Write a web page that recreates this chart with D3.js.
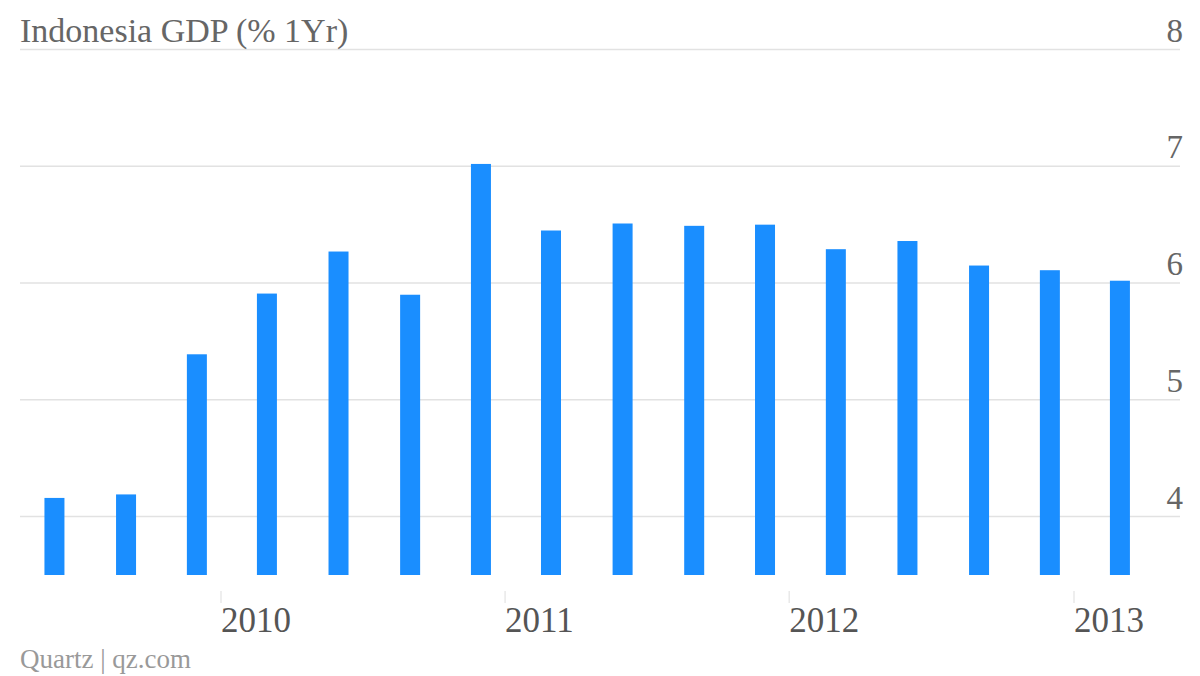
<!DOCTYPE html>
<html><head><meta charset="utf-8">
<script src="https://cdnjs.cloudflare.com/ajax/libs/d3/7.8.5/d3.min.js"></script>
<style>body{margin:0;background:#fff}svg{display:block}</style>
</head><body>
<script>
const dates = ["2009-06-01","2009-09-01","2009-12-01","2010-03-01","2010-06-01","2010-09-01","2010-12-01","2011-03-01","2011-06-01","2011-09-01","2011-12-01","2012-03-01","2012-06-01","2012-09-01","2012-12-01","2013-03-01"];
const values = [4.16,4.19,5.39,5.91,6.27,5.90,7.02,6.45,6.51,6.49,6.50,6.29,6.36,6.15,6.11,6.02];
const yTicks = [4,5,6,7,8];
const xTicks = ["2010-01-01","2011-01-01","2012-01-01","2013-01-01"];
const title = "Indonesia GDP (% 1Yr)";
const source = "Quartz | qz.com";

const W = 1200, H = 676;
const svg = d3.select("body").append("svg").attr("width", W).attr("height", H);
const parse = d3.utcParse("%Y-%m-%d");
const x = d3.scaleUtc().domain([parse("2010-01-01"), parse("2013-01-01")]).range([221, 1074]);
const y = d3.scaleLinear().domain([3.5, 8]).range([575, 49.5]);
const font = "'Liberation Serif', serif";

// gridlines
svg.append("g").selectAll("line").data(yTicks).join("line")
  .attr("x1", 20).attr("x2", 1180)
  .attr("y1", d => y(d)).attr("y2", d => y(d))
  .attr("stroke", "#e2e2e2").attr("stroke-width", 1.5);

// y labels
svg.append("g").selectAll("text").data(yTicks).join("text")
  .attr("x", 1183).attr("y", d => y(d) - 8)
  .attr("text-anchor", "end")
  .attr("font-family", font).attr("font-size", 33).attr("fill", "#666")
  .text(d => d);

// title
svg.append("text").attr("x", 20).attr("y", 42)
  .attr("font-family", font).attr("font-size", 34).attr("fill", "#666")
  .text(title);

// bars
const bw = 20;
svg.append("g").selectAll("rect").data(values).join("rect")
  .attr("x", (d, i) => x(parse(dates[i])) - bw / 2)
  .attr("width", bw)
  .attr("y", d => y(d))
  .attr("height", d => y(3.5) - y(d))
  .attr("fill", "#1a8eff");

// x axis ticks
const xt = svg.append("g").selectAll("g").data(xTicks).join("g")
  .attr("transform", d => `translate(${x(parse(d))},0)`);
xt.append("line").attr("y1", 591).attr("y2", 603).attr("stroke", "#ddd").attr("stroke-width", 1);
xt.append("text").attr("x", 0).attr("y", 632)
  .attr("font-family", font).attr("font-size", 35).attr("fill", "#555")
  .text(d => d.slice(0, 4));

// source
svg.append("text").attr("x", 20).attr("y", 668)
  .attr("font-family", font).attr("font-size", 27).attr("fill", "#999")
  .text(source);
</script>
</body></html>
